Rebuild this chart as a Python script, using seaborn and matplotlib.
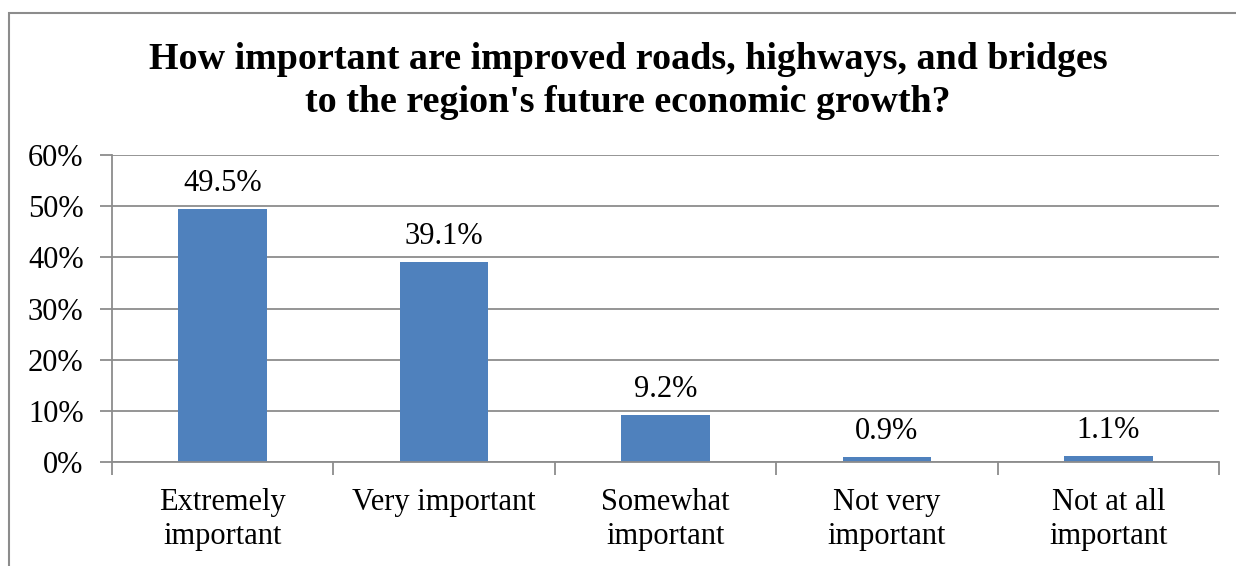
import matplotlib
matplotlib.use("Agg")
import matplotlib.pyplot as plt
import seaborn as sns
import pandas as pd
from matplotlib.patches import Rectangle
from matplotlib.ticker import MultipleLocator, FuncFormatter

categories = ["Extremely\nimportant", "Very important", "Somewhat\nimportant",
              "Not very\nimportant", "Not at all\nimportant"]
values = [49.5, 39.1, 9.2, 0.9, 1.1]
value_labels = ["49.5%", "39.1%", "9.2%", "0.9%", "1.1%"]

sns.set_theme(style="white")
plt.rcParams["font.family"] = ["Liberation Serif", "DejaVu Serif"]
plt.rcParams["text.color"] = "black"
plt.rcParams["xtick.color"] = "black"
plt.rcParams["ytick.color"] = "black"

W, H, DPI = 1236, 566, 100
fig = plt.figure(figsize=(W / DPI, H / DPI), dpi=DPI)
ax = fig.add_axes([112 / W, 1 - 462 / H, (1219 - 112) / W, (462 - 155) / H])

df = pd.DataFrame({"cat": categories, "val": values})
sns.barplot(data=df, x="cat", y="val", color="#4F81BD", saturation=1,
            width=0.40, ax=ax)
for p in ax.patches:
    p.set_edgecolor("none")

grey = "#8c8c8c"
ax.set_ylim(0, 60)
ax.set_xlim(-0.5, len(categories) - 0.5)
ax.yaxis.set_major_locator(MultipleLocator(10))
ax.yaxis.set_major_formatter(FuncFormatter(lambda v, _: f"{v:.0f}%"))
ax.grid(axis="y", color=grey, lw=1.3)
ax.set_axisbelow(True)
for s in ["top", "right"]:
    ax.spines[s].set_visible(False)
for s in ["left", "bottom"]:
    ax.spines[s].set_color(grey)
    ax.spines[s].set_linewidth(1.3)

ax.set_xlabel("")
ax.set_ylabel("")
ax.tick_params(axis="y", length=9, width=1.3, color=grey, labelsize=22,
               labelcolor="black", pad=11.5, left=True)
ax.set_xticks(range(len(categories)))
ax.set_xticklabels(categories, fontsize=22, linespacing=1.2, color="black")
ax.tick_params(axis="x", length=0, pad=19)
# category boundary ticks
ax.set_xticks([i - 0.5 for i in range(len(categories) + 1)], minor=True)
ax.tick_params(axis="x", which="minor", length=9, width=1.3, color=grey,
               bottom=True)

for i, (v, lab) in enumerate(zip(values, value_labels)):
    ax.annotate(lab, (i, v), xytext=(0, 8), textcoords="offset points",
                ha="center", va="bottom", fontsize=22, color="black")

fig.text(628 / W, 1 - 81 / H,
         "How important are improved roads, highways, and bridges\n"
         "to the region's future economic growth?",
         ha="center", va="center", fontsize=27.4, fontweight="bold",
         linespacing=1.3, color="black")

fig.patches.append(Rectangle((9 / W, -0.1), 1.2, 1 - 13 / H + 0.1,
                             transform=fig.transFigure, fill=False,
                             edgecolor=grey, lw=1.5))

fig.savefig("out.png", dpi=DPI)
